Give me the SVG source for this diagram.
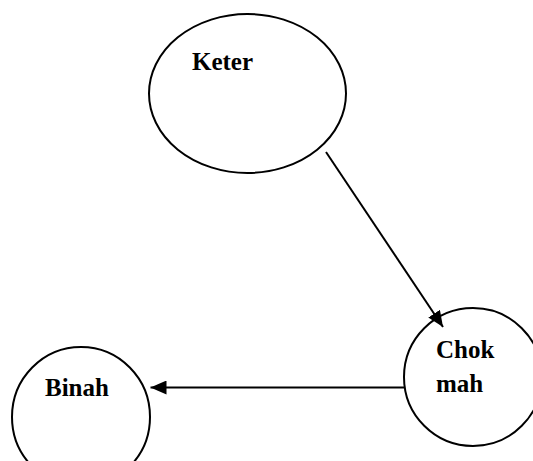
<svg xmlns="http://www.w3.org/2000/svg" width="533" height="461" viewBox="0 0 533 461">
  <style>
    .node { fill: #ffffff; stroke: #000000; stroke-width: 2; }
    .label { font-family: "Liberation Serif", "Times New Roman", serif; font-weight: bold; font-size: 25px; fill: #000000; }
    .edge { stroke: #000000; stroke-width: 2; fill: none; }
  </style>
  <defs>
    <marker id="arrow" viewBox="0 0 16 14" refX="16" refY="7" markerWidth="16" markerHeight="14" markerUnits="userSpaceOnUse" orient="auto">
      <path d="M0,0 L16,7 L0,14 Z" fill="#000000"/>
    </marker>
  </defs>
  <rect width="533" height="461" fill="#ffffff"/>

  <g id="keter">
    <ellipse class="node" cx="247.5" cy="93.5" rx="98.5" ry="79.5"/>
    <text class="label" x="192" y="70">Keter</text>
  </g>

  <g id="chokmah">
    <circle class="node" cx="473" cy="377" r="69"/>
    <text class="label" x="436" y="358">Chok</text>
    <text class="label" x="436" y="392">mah</text>
  </g>

  <g id="binah">
    <ellipse class="node" cx="81" cy="417" rx="69" ry="70"/>
    <text class="label" x="45" y="396">Binah</text>
  </g>

  <g id="connectors">
    <line class="edge" x1="326" y1="152" x2="443" y2="327" marker-end="url(#arrow)"/>
    <line class="edge" x1="404" y1="387.5" x2="150.5" y2="387.5" marker-end="url(#arrow)"/>
  </g>
</svg>
